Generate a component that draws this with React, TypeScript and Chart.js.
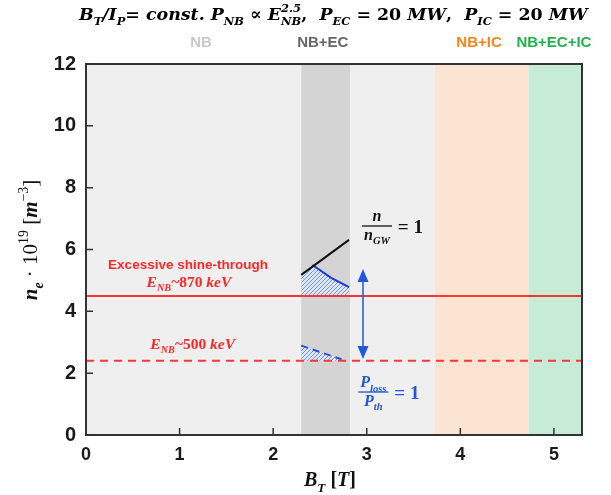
import { useEffect, useRef } from "react";
import { Chart, registerables } from "chart.js";
Chart.register(...registerables);

// ---- data ----
const xRange = [0, 5.3];
const yRange = [0, 12];
const xTicks = [0, 1, 2, 3, 4, 5];
const yTicks = [0, 2, 4, 6, 8, 10, 12];
const bandNBEC = [2.3, 2.82];
const bandNBIC = [3.73, 4.73];
const bandAll = [4.73, 5.3];
const shineLimit = 4.5;
const lossLimit = 2.4;
const gwX = [2.3, 2.81];
const gwY = [5.18, 6.31];
const lossSolidX = [2.42, 2.62, 2.81];
const lossSolidY = [5.5, 5.08, 4.78];
const hatchTopX = [2.3, 2.42, 2.62, 2.81];
const hatchTopY = [5.18, 5.5, 5.08, 4.78];
const lossDashX = [2.3, 2.73];
const lossDashY = [2.89, 2.45];
const arrowX = 2.96;
const arrowY = [5.37, 2.46];
const regionLabels = ["NB", "NB+EC", "NB+IC", "NB+EC+IC"];
const regionLabelX = [1.23, 2.53, 4.2, 5.0];
const regionColors = ["#c8c8c8", "#666666", "#f5841f", "#22b14c"];

const SERIF = "'Liberation Serif', 'DejaVu Serif', serif";
const WSERIF = "'DejaVu Serif', serif";
const SANS = "'Liberation Sans', Arial, sans-serif";

type Seg = { t: string; i?: boolean; n?: boolean; p?: "sub" | "sup"; over?: string };

function segFont(s: Seg, size: number, fam: string, small = false) {
  const px = s.p || small ? size * 0.66 : size;
  return `${s.i ? "italic " : ""}${s.n ? "" : "bold "}${px}px ${fam}`;
}
function richWidth(ctx: CanvasRenderingContext2D, segs: Seg[], size: number, fam: string) {
  let w = 0;
  for (const s of segs) {
    ctx.font = segFont(s, size, fam);
    let sw = ctx.measureText(s.t).width;
    if (s.over) sw = Math.max(sw, ctx.measureText(s.over).width);
    w += sw;
  }
  return w;
}
function drawRich(ctx: CanvasRenderingContext2D, segs: Seg[], x: number, y: number, size: number, fam: string, color: string, align: "left" | "center" = "left") {
  let cx = align === "center" ? x - richWidth(ctx, segs, size, fam) / 2 : x;
  ctx.fillStyle = color;
  ctx.textAlign = "left";
  ctx.textBaseline = "alphabetic";
  for (const s of segs) {
    ctx.font = segFont(s, size, fam);
    const dy = s.p === "sub" ? size * 0.28 : s.p === "sup" ? -size * 0.42 : 0;
    ctx.fillText(s.t, cx, y + dy);
    let sw = ctx.measureText(s.t).width;
    if (s.over) {
      ctx.fillText(s.over, cx, y - size * 0.45);
      sw = Math.max(sw, ctx.measureText(s.over).width);
    }
    cx += sw;
  }
  return cx;
}
function drawFrac(ctx: CanvasRenderingContext2D, num: Seg[], den: Seg[], cx: number, barY: number, size: number, color: string) {
  const wn = richWidth(ctx, num, size, SERIF);
  const wd = richWidth(ctx, den, size, SERIF);
  const w = Math.max(wn, wd) + 4;
  drawRich(ctx, num, cx, barY - size * 0.3, size, SERIF, color, "center");
  drawRich(ctx, den, cx, barY + size * 0.85, size, SERIF, color, "center");
  ctx.strokeStyle = color;
  ctx.lineWidth = 1.3;
  ctx.beginPath();
  ctx.moveTo(cx - w / 2, barY);
  ctx.lineTo(cx + w / 2, barY);
  ctx.stroke();
  drawRich(ctx, [{ t: " = 1" }], cx + w / 2 + 1, barY + size * 0.42, size * 1.2, SERIF, color);
}

function makeHatch() {
  const c = document.createElement("canvas");
  c.width = 4;
  c.height = 4;
  const g = c.getContext("2d")!;
  g.fillStyle = "#dde5f8";
  g.fillRect(0, 0, 4, 4);
  g.strokeStyle = "#6d8ae2";
  g.lineWidth = 0.9;
  g.beginPath();
  g.moveTo(0, 4);
  g.lineTo(4, 0);
  g.moveTo(-1, 1);
  g.lineTo(1, -1);
  g.moveTo(3, 5);
  g.lineTo(5, 3);
  g.stroke();
  return g.createPattern(c, "repeat")!;
}

const pts = (xs: number[], ys: number[]) => xs.map((x, i) => ({ x, y: ys[i] }));

const decor = {
  id: "decor",
  beforeDraw(chart: any) {
    const { ctx, chartArea: a, scales } = chart;
    const X = scales.x;
    ctx.save();
    ctx.fillStyle = "#efefef";
    ctx.fillRect(a.left, a.top, a.right - a.left, a.bottom - a.top);
    const band = (r: number[], col: string) => {
      ctx.fillStyle = col;
      const l = X.getPixelForValue(r[0]);
      const rr = X.getPixelForValue(r[1]);
      ctx.fillRect(l, a.top, rr - l, a.bottom - a.top);
    };
    band(bandNBEC, "#d4d4d4");
    band(bandNBIC, "#fbe4d2");
    band(bandAll, "#c7ecd5");
    ctx.restore();
  },
  afterDatasetsDraw(chart: any) {
    const { ctx, chartArea: a, scales } = chart;
    const X = scales.x, Y = scales.y;
    ctx.save();
    // arrow
    const ax = X.getPixelForValue(arrowX);
    const t = Y.getPixelForValue(arrowY[0]);
    const b = Y.getPixelForValue(arrowY[1]);
    ctx.strokeStyle = "#2256dc";
    ctx.fillStyle = "#2256dc";
    ctx.lineWidth = 1.5;
    ctx.beginPath();
    ctx.moveTo(ax, t + 8);
    ctx.lineTo(ax, b - 8);
    ctx.stroke();
    ctx.beginPath();
    ctx.moveTo(ax, t);
    ctx.lineTo(ax - 5.5, t + 13);
    ctx.lineTo(ax + 5.5, t + 13);
    ctx.closePath();
    ctx.fill();
    ctx.beginPath();
    ctx.moveTo(ax, b);
    ctx.lineTo(ax - 5.5, b - 13);
    ctx.lineTo(ax + 5.5, b - 13);
    ctx.closePath();
    ctx.fill();
    // frame
    ctx.strokeStyle = "#333";
    ctx.lineWidth = 2;
    ctx.strokeRect(a.left, a.top, a.right - a.left, a.bottom - a.top);
    // inner ticks
    ctx.lineWidth = 1.5;
    ctx.beginPath();
    for (const v of xTicks) {
      const px = X.getPixelForValue(v);
      ctx.moveTo(px, a.bottom);
      ctx.lineTo(px, a.bottom - 7);
    }
    for (const v of yTicks) {
      const py = Y.getPixelForValue(v);
      ctx.moveTo(a.left, py);
      ctx.lineTo(a.left + 7, py);
    }
    ctx.stroke();
    ctx.restore();
  },
  afterDraw(chart: any) {
    const { ctx, chartArea: a, scales } = chart;
    const X = scales.x, Y = scales.y;
    ctx.save();
    // title
    drawRich(ctx, [
      { t: "B", i: true }, { t: "T", i: true, p: "sub" }, { t: "/", i: true }, { t: "I", i: true }, { t: "P", i: true, p: "sub" },
      { t: "= const. ", i: true }, { t: "P", i: true }, { t: "NB", i: true, p: "sub" }, { t: " ∝ " },
      { t: "E", i: true }, { t: "NB", i: true, p: "sub", over: "2.5" }, { t: ",  " },
      { t: "P", i: true }, { t: "EC", i: true, p: "sub" }, { t: " = 20 " }, { t: "MW", i: true }, { t: ",  " },
      { t: "P", i: true }, { t: "IC", i: true, p: "sub" }, { t: " = 20 " }, { t: "MW", i: true },
    ], 79, 20, 17.4, WSERIF, "#000");
    // region labels
    ctx.font = `bold 15px ${SANS}`;
    ctx.textAlign = "center";
    ctx.textBaseline = "middle";
    regionLabels.forEach((l, i) => {
      ctx.fillStyle = regionColors[i];
      ctx.fillText(l, X.getPixelForValue(regionLabelX[i]), a.top - 21);
    });
    // red annotations
    ctx.font = `bold 13.5px ${SANS}`;
    ctx.fillStyle = "#ff2828";
    ctx.fillText("Excessive shine-through", X.getPixelForValue(1.09), Y.getPixelForValue(5.5));
    drawRich(ctx, [{ t: "E", i: true }, { t: "NB", i: true, p: "sub" }, { t: "~870 " }, { t: "keV", i: true }],
      X.getPixelForValue(1.1), Y.getPixelForValue(4.95) + 5, 15.5, SERIF, "#ff2828", "center");
    drawRich(ctx, [{ t: "E", i: true }, { t: "NB", i: true, p: "sub" }, { t: "~500 " }, { t: "keV", i: true }],
      X.getPixelForValue(1.14), Y.getPixelForValue(2.94) + 5, 15.5, SERIF, "#ff2828", "center");
    // fractions
    drawFrac(ctx, [{ t: "n", i: true }], [{ t: "n", i: true }, { t: "GW", i: true, p: "sub" }],
      X.getPixelForValue(3.11), Y.getPixelForValue(6.76), 16, "#111");
    drawFrac(ctx, [{ t: "P", i: true }, { t: "loss", i: true, p: "sub" }], [{ t: "P", i: true }, { t: "th", i: true, p: "sub" }],
      X.getPixelForValue(3.07), Y.getPixelForValue(1.39), 16, "#2256dc");
    // axis titles
    drawRich(ctx, [{ t: "B", i: true }, { t: "T", i: true, p: "sub" }, { t: " [" }, { t: "T", i: true }, { t: "]" }],
      330, 486, 20, SERIF, "#111", "center");
    ctx.translate(30, 240);
    ctx.rotate(-Math.PI / 2);
    drawRich(ctx, [
      { t: "n", i: true }, { t: "e", i: true, p: "sub" }, { t: " · 10", n: true }, { t: "19", n: true, p: "sup" },
      { t: " [", n: true }, { t: "m", i: true }, { t: "−3", n: true, p: "sup" }, { t: "]", n: true },
    ], 0, 7, 21, SERIF, "#111", "center");
    ctx.restore();
  },
};

export default function App() {
  const ref = useRef<HTMLCanvasElement>(null);
  useEffect(() => {
    const canvas = ref.current!;
    const hatch = makeHatch();
    const chart = new Chart(canvas, {
      type: "line",
      data: {
        datasets: [
          { data: pts([xRange[0], xRange[1]], [shineLimit, shineLimit]), borderColor: "#ff3434", borderWidth: 2 },
          { data: pts([xRange[0], xRange[1]], [lossLimit, lossLimit]), borderColor: "#ff3434", borderWidth: 2, borderDash: [8, 6] },
          { data: pts(gwX, gwY), borderColor: "#111", borderWidth: 2 },
          { data: pts(lossSolidX, lossSolidY), borderColor: "#1a3fcc", borderWidth: 2 },
          { data: pts(lossDashX, lossDashY), borderColor: "#2a4fd0", borderWidth: 2, borderDash: [7, 5], fill: { value: lossLimit }, backgroundColor: hatch },
          { data: pts(hatchTopX, hatchTopY), borderWidth: 0, borderColor: "rgba(0,0,0,0)", fill: { value: shineLimit }, backgroundColor: hatch },
        ] as any,
      },
      options: {
        responsive: false,
        animation: false,
        events: [],
        elements: { point: { radius: 0 }, line: { tension: 0 } },
        layout: { padding: { top: 64, right: 29, left: 0, bottom: 0 } },
        plugins: { legend: { display: false }, tooltip: { enabled: false } },
        scales: {
          x: {
            type: "linear", min: xRange[0], max: xRange[1],
            afterBuildTicks: (s: any) => { s.ticks = xTicks.map((v) => ({ value: v })); },
            afterFit: (s: any) => { s.height = 60; },
            grid: { display: false, drawTicks: false },
            border: { display: false },
            ticks: { padding: 9, color: "#1a1a1a", font: { family: SANS, size: 18, weight: "bold" } },
          },
          y: {
            type: "linear", min: yRange[0], max: yRange[1],
            afterBuildTicks: (s: any) => { s.ticks = yTicks.map((v) => ({ value: v })); },
            afterFit: (s: any) => { s.width = 86; },
            grid: { display: false, drawTicks: false },
            border: { display: false },
            ticks: { padding: 10, color: "#1a1a1a", font: { family: SANS, size: 20, weight: "bold" } },
          },
        },
      } as any,
      plugins: [decor],
    });
    return () => chart.destroy();
  }, []);
  return (
    <div style={{ width: 611, height: 495 }}>
      <style>{"body{margin:0}"}</style>
      <canvas ref={ref} width={611} height={495} style={{ display: "block" }} />
    </div>
  );
}
